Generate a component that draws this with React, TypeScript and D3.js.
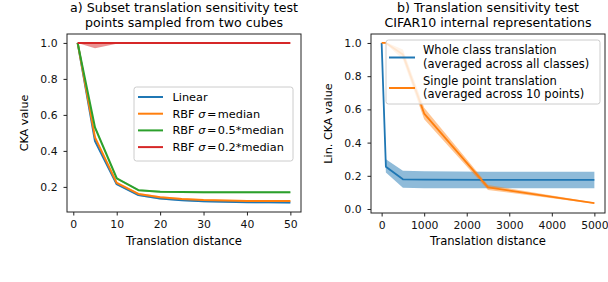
import React, { useEffect, useRef } from "react";
import * as d3 from "d3";

// ---- data: left panel (points sampled from two cubes)
const distA = [1, 5, 10, 15, 20, 25, 30, 35, 40, 45, 50];
const linearA = [1.0, 0.455, 0.215, 0.155, 0.135, 0.126, 0.12, 0.117, 0.115, 0.114, 0.113];
const rbfMedA = [1.0, 0.475, 0.222, 0.161, 0.143, 0.133, 0.127, 0.124, 0.122, 0.121, 0.121];
const rbfHalfA = [1.0, 0.53, 0.248, 0.182, 0.173, 0.171, 0.17, 0.17, 0.17, 0.17, 0.17];
const rbfFifthA = [1.0, 1.0, 1.0, 1.0, 1.0, 1.0, 1.0, 1.0, 1.0, 1.0, 1.0];
const rbfFifthLowA = [1.0, 0.97, 0.996, 0.998, 0.998, 0.998, 0.998, 0.998, 0.998, 0.998, 0.998];
const spreadA = [0, 0.008, 0.006, 0.005, 0.005, 0.005, 0.005, 0.005, 0.005, 0.005, 0.005];

// ---- data: right panel (CIFAR10 internal representations)
const distB = [0, 100, 500, 1000, 2500, 5000];
const wholeB = [1.0, 0.255, 0.179, 0.177, 0.175, 0.175];
const wholeLowB = [1.0, 0.22, 0.128, 0.125, 0.125, 0.125];
const wholeHighB = [1.0, 0.3, 0.23, 0.228, 0.225, 0.225];
const singleB = [1.0, 1.0, 0.93, 0.575, 0.13, 0.035];
const singleSpreadB = [0, 0.005, 0.03, 0.035, 0.015, 0.004];

const ticksXA = [0, 10, 20, 30, 40, 50];
const ticksYA = [0.2, 0.4, 0.6, 0.8, 1.0];
const ticksXB = [0, 1000, 2000, 3000, 4000, 5000];
const ticksYB = [0.0, 0.2, 0.4, 0.6, 0.8, 1.0];

const C = { blue: "#1f77b4", orange: "#ff7f0e", green: "#2ca02c", red: "#d62728" };
const FONT = "DejaVu Sans, sans-serif";

const App = () => {
  const ref = useRef<SVGSVGElement>(null);

  useEffect(() => {
    const svg = d3.select(ref.current);
    svg.selectAll("*").remove();

    const panel = (
      xDom: number[], yDom: number[], xR: number[], yR: number[],
      xt: number[], yt: number[], xFmt: (d: any) => string,
      title: string[], ylabel: string
    ) => {
      const x = d3.scaleLinear().domain(xDom).range(xR);
      const y = d3.scaleLinear().domain(yDom).range(yR);
      const g = svg.append("g");
      const body = g.append("g");

      // axes
      const ax = g.append("g")
        .attr("transform", `translate(0,${yR[0]})`)
        .call(d3.axisBottom(x).tickValues(xt).tickFormat(xFmt).tickSize(3.5).tickSizeOuter(0).tickPadding(4.5));
      const ay = g.append("g")
        .attr("transform", `translate(${xR[0]},0)`)
        .call(d3.axisLeft(y).tickValues(yt).tickFormat(d3.format(".1f")).tickSize(3.5).tickSizeOuter(0).tickPadding(6));
      [ax, ay].forEach(a => {
        a.select(".domain").remove();
        a.selectAll("text").attr("font-size", 10.8).attr("font-family", FONT).attr("fill", "#111");
        a.selectAll("line").attr("stroke", "#222");
      });
      // frame
      g.append("rect")
        .attr("x", xR[0]).attr("y", yR[1])
        .attr("width", xR[1] - xR[0]).attr("height", yR[0] - yR[1])
        .attr("fill", "none").attr("stroke", "#222").attr("stroke-width", 1);

      const cx = (xR[0] + xR[1]) / 2;
      g.append("text").attr("x", cx).attr("y", 11.5).attr("text-anchor", "middle")
        .attr("font-size", 12.6).attr("font-family", FONT).text(title[0]);
      g.append("text").attr("x", cx).attr("y", 27).attr("text-anchor", "middle")
        .attr("font-size", 12.6).attr("font-family", FONT).text(title[1]);
      g.append("text").attr("x", cx).attr("y", 245).attr("text-anchor", "middle")
        .attr("font-size", 11.6).attr("font-family", FONT).text("Translation distance");
      const cy = (yR[0] + yR[1]) / 2;
      g.append("text")
        .attr("transform", `translate(${xR[0] - 39},${cy}) rotate(-90)`)
        .attr("text-anchor", "middle").attr("font-size", 11.2).attr("font-family", FONT).text(ylabel);

      return { x, y, body, g };
    };

    const band = (p: any, xs: number[], lo: number[], hi: number[], color: string, op: number) => {
      const area = d3.area<number>().x((_, i) => p.x(xs[i])).y0((_, i) => p.y(lo[i])).y1((_, i) => p.y(hi[i]));
      p.body.append("path").attr("d", area(xs)).attr("fill", color).attr("opacity", op);
    };
    const line = (p: any, xs: number[], ys: number[], color: string, w: number) => {
      const ln = d3.line<number>().x((_, i) => p.x(xs[i])).y(d => p.y(d));
      p.body.append("path").attr("d", ln(ys)).attr("fill", "none").attr("stroke", color)
        .attr("stroke-width", w).attr("stroke-linejoin", "round");
    };

    // ---- left panel
    const a = panel([-1.45, 52.45], [0.0605, 1.0495], [67, 301], [212, 34],
      ticksXA, ticksYA, d3.format("d"),
      ["a) Subset translation sensitivity test", "points sampled from two cubes"], "CKA value");
    const sets: [number[], string][] = [[linearA, C.blue], [rbfMedA, C.orange], [rbfHalfA, C.green]];
    sets.forEach(([ys, c]) => band(a, distA, ys.map((v, i) => v - spreadA[i]), ys.map((v, i) => v + spreadA[i]), c, 0.35));
    band(a, distA, rbfFifthLowA, rbfFifthA, C.red, 0.5);
    line(a, distA, linearA, C.blue, 2);
    line(a, distA, rbfMedA, C.orange, 2);
    line(a, distA, rbfHalfA, C.green, 2);
    line(a, distA, rbfFifthA, C.red, 2);

    // legend left
    const la = a.g.append("g");
    la.append("rect").attr("x", 134).attr("y", 87).attr("width", 159).attr("height", 74).attr("rx", 2.5)
      .attr("fill", "white").attr("fill-opacity", 0.8).attr("stroke", "#cccccc");
    const entriesA: [string, string | null, string][] = [
      ["Linear", null, C.blue],
      ["RBF ", "=median", C.orange],
      ["RBF ", "=0.5*median", C.green],
      ["RBF ", "=0.2*median", C.red],
    ];
    entriesA.forEach(([t0, t1, c], i) => {
      const yy = 97 + i * 16.7;
      la.append("line").attr("x1", 138).attr("x2", 163).attr("y1", yy).attr("y2", yy)
        .attr("stroke", c).attr("stroke-width", 2);
      const tx = la.append("text").attr("x", 172.5).attr("y", yy + 4)
        .attr("font-size", 11.3).attr("font-family", FONT);
      tx.append("tspan").text(t0);
      if (t1) {
        tx.append("tspan").attr("font-style", "italic").text("σ");
        tx.append("tspan").attr("dx", 1.5).text(t1.slice(0, 1));
        tx.append("tspan").attr("dx", 1.5).text(t1.slice(1));
      }
    });

    // ---- right panel
    const b = panel([-250, 5250], [-0.024, 1.054], [371, 605], [213, 34],
      ticksXB, ticksYB, d3.format("d"),
      ["b) Translation sensitivity test", "CIFAR10 internal representations"], "Lin. CKA value");
    band(b, distB, wholeLowB, wholeHighB, C.blue, 0.5);
    band(b, distB, singleB.map((v, i) => v - singleSpreadB[i]), singleB.map((v, i) => v + singleSpreadB[i]), C.orange, 0.45);
    line(b, distB, wholeB, C.blue, 1.8);
    line(b, distB, singleB, C.orange, 1.8);

    const lb = b.g.append("g");
    lb.append("rect").attr("x", 386).attr("y", 40).attr("width", 214).attr("height", 64).attr("rx", 2.5)
      .attr("fill", "white").attr("fill-opacity", 0.8).attr("stroke", "#cccccc");
    const entriesB: [string, string, string, number][] = [
      ["Whole class translation", "(averaged across all classes)", C.blue, 57.5],
      ["Single point translation", "(averaged across 10 points)", C.orange, 88],
    ];
    entriesB.forEach(([t0, t1, c, yy]) => {
      lb.append("line").attr("x1", 389).attr("x2", 415).attr("y1", yy).attr("y2", yy)
        .attr("stroke", c).attr("stroke-width", 2);
      lb.append("text").attr("x", 423).attr("y", yy - 3.5).attr("font-size", 11.5).attr("font-family", FONT).text(t0);
      lb.append("text").attr("x", 423).attr("y", yy + 10).attr("font-size", 11.5).attr("font-family", FONT).text(t1);
    });
  }, []);

  return (
    <svg ref={ref} width={608} height={282}
      style={{ position: "absolute", left: 0, top: 0, background: "white" }} />
  );
};

export default App;
